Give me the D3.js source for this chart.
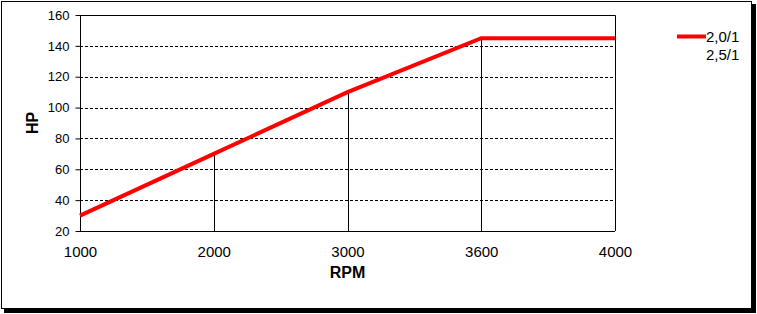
<!DOCTYPE html>
<html><head><meta charset="utf-8">
<script src="https://cdn.jsdelivr.net/npm/d3@7"></script>
<style>
html,body{margin:0;padding:0;background:#fff;}
svg{display:block;}
text{font-family:"Liberation Sans",Arial,sans-serif;}
</style></head>
<body>
<svg id="c" width="757" height="314"></svg>
<script>
const categories = ["1000","2000","3000","3600","4000"];
const series1Name = "2,0/1";
const series2Name = "2,5/1";
const series1Values = [30, 70, 110, 145, 145];
const yTicks = [20,40,60,80,100,120,140,160];

const svg = d3.select("#c");
// chart frame with shadow
svg.append("rect").attr("x",4).attr("y",4).attr("width",752).attr("height",309).attr("fill","#000");
svg.append("rect").attr("x",1.5).attr("y",1.5).attr("width",750).attr("height",307).attr("fill","#fff").attr("stroke","#000").attr("stroke-width",1);

const L=80, R=615, T=15, B=231;
const x = d3.scalePoint().domain(categories).range([L,R]);
const y = d3.scaleLinear().domain([20,160]).range([B,T]);

// gridlines
svg.append("g").selectAll("line").data(yTicks.filter(v=>v>20&&v<160)).join("line")
  .attr("x1",L).attr("x2",R).attr("y1",d=>Math.round(y(d))+0.5).attr("y2",d=>Math.round(y(d))+0.5)
  .attr("stroke","#000").attr("stroke-width",1).attr("stroke-dasharray","3,2");

// plot border top/right
svg.append("path").attr("d",`M${L},${T+0.5}H${R+0.5}V${B}`).attr("fill","none").attr("stroke","#000");

// drop lines
svg.append("g").selectAll("line").data(categories.map((c,i)=>({c,v:series1Values[i]}))).join("line")
  .attr("x1",d=>Math.round(x(d.c))+0.5).attr("x2",d=>Math.round(x(d.c))+0.5)
  .attr("y1",d=>y(d.v)).attr("y2",B).attr("stroke","#000").attr("stroke-width",1);

// y axis
const yAxis = d3.axisLeft(y).tickValues(yTicks).tickSize(5).tickPadding(6).tickFormat(d3.format("d"));
const gy = svg.append("g").attr("transform",`translate(${L+0.5},0)`).call(yAxis);
gy.select(".domain").attr("d",`M-0,${T}V${B}`);
gy.selectAll(".tick line").attr("stroke","#000");
gy.selectAll("text").attr("font-size",13).attr("fill","#000").attr("font-family","Liberation Sans, Arial, sans-serif");

// x axis
const xAxis = d3.axisBottom(x).tickSize(0).tickPadding(15);
const gx = svg.append("g").attr("transform",`translate(0,${B+0.5})`).call(xAxis);
gx.select(".domain").attr("d",`M${L},0H${R}`);
gx.selectAll("text").attr("font-size",15).attr("fill","#000").attr("font-family","Liberation Sans, Arial, sans-serif");

// line
const line = d3.line().x((d,i)=>x(categories[i])).y(d=>y(d));
svg.append("path").datum(series1Values).attr("d",line).attr("fill","none")
  .attr("stroke","#ff0000").attr("stroke-width",4).attr("stroke-linejoin","miter");

// axis titles
svg.append("text").attr("x",(L+R)/2).attr("y",278).attr("text-anchor","middle")
  .attr("font-size",16).attr("font-weight","bold").text("RPM");
svg.append("text").attr("transform",`translate(38,${(T+B)/2}) rotate(-90)`).attr("text-anchor","middle")
  .attr("font-size",16).attr("font-weight","bold").text("HP");

// legend
svg.append("line").attr("x1",677).attr("x2",706).attr("y1",36.5).attr("y2",36.5).attr("stroke","#ff0000").attr("stroke-width",4);
svg.append("text").attr("x",706).attr("y",42).attr("font-size",15).text(series1Name);
svg.append("text").attr("x",706).attr("y",60).attr("font-size",15).text(series2Name);
</script>
</body></html>
